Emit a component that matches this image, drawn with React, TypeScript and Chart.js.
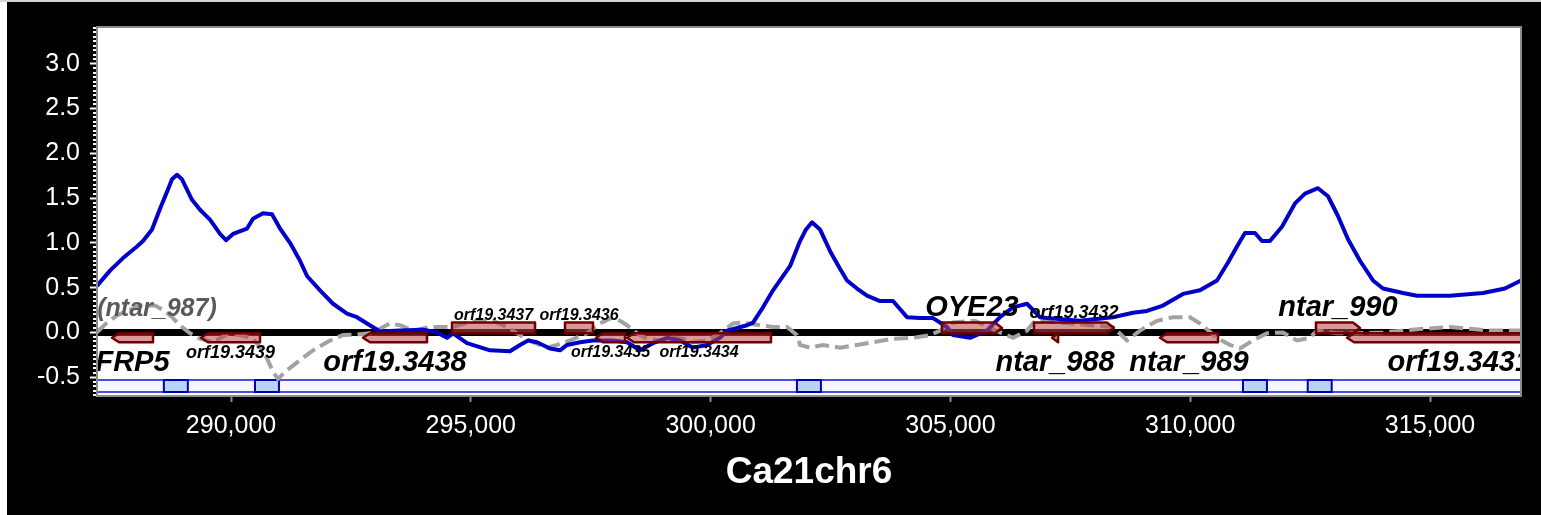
import React, { useEffect, useRef } from 'react';
import { Chart, registerables } from 'chart.js';

Chart.register(...registerables);

const FONT = '"Liberation Sans", Arial, Helvetica, sans-serif';

// ---- axes ----
const X_MIN = 287206;
const X_MAX = 316897;
const Y_MIN = -0.71;
const Y_MAX = 3.41;
const xTickValues = [290000, 295000, 300000, 305000, 310000, 315000];
const yTickValues = [-0.5, 0, 0.5, 1, 1.5, 2, 2.5, 3];
const xAxisTitle = 'Ca21chr6';

// ---- blue signal ----
const bluePositions = [
  287206, 287477, 287748, 288040, 288165, 288353, 288520, 288666, 288770, 288874,
  288978, 289187, 289354, 289562, 289771, 289896, 290042, 290334, 290459, 290667,
  290855, 291022, 291230, 291439, 291585, 291856, 292127, 292419, 292627, 292836,
  293107, 293524, 294004, 294295, 294504, 294629, 294921, 295401, 295817, 296026,
  296193, 296380, 296651, 296860, 297006, 297277, 297548, 297965, 298257, 298528,
  298799, 299091, 299362, 299633, 299925, 300196, 300342, 300759, 300884, 301092,
  301301, 301447, 301655, 301864, 301989, 302114, 302281, 302489, 302698, 302844,
  303052, 303261, 303532, 303803, 304095, 304366, 304637, 304929, 305054, 305408,
  305762, 306033, 306305, 306597, 306867, 307014, 307702, 308390, 308807, 309099,
  309432, 309849, 310203, 310558, 310788, 310975, 311142, 311350, 311496, 311663,
  311913, 312184, 312393, 312664, 312873, 313081, 313290, 313540, 313811, 314019,
  314436, 314728, 315416, 316104, 316563, 316897,
];
const blueValues = [
  0.52, 0.69, 0.83, 0.96, 1.02, 1.15, 1.38, 1.57, 1.71, 1.76,
  1.71, 1.48, 1.37, 1.26, 1.10, 1.03, 1.10, 1.16, 1.27, 1.33,
  1.32, 1.16, 1.00, 0.80, 0.63, 0.47, 0.32, 0.21, 0.17, 0.10,
  0.01, 0.02, 0.03, 0.00, -0.06, -0.01, -0.12, -0.20, -0.21, -0.14,
  -0.09, -0.11, -0.18, -0.20, -0.14, -0.11, -0.09, -0.09, -0.11, -0.20,
  -0.12, -0.06, -0.09, -0.17, -0.14, -0.06, 0.02, 0.08, 0.11, 0.28,
  0.47, 0.58, 0.74, 1.02, 1.15, 1.23, 1.15, 0.91, 0.71, 0.58,
  0.49, 0.41, 0.35, 0.35, 0.17, 0.16, 0.16, 0.06, -0.03, -0.06,
  0.02, 0.17, 0.28, 0.32, 0.17, 0.16, 0.13, 0.17, 0.22, 0.24,
  0.30, 0.43, 0.47, 0.58, 0.78, 0.96, 1.11, 1.11, 1.02, 1.02,
  1.18, 1.44, 1.55, 1.61, 1.52, 1.30, 1.04, 0.80, 0.58, 0.49,
  0.44, 0.41, 0.41, 0.44, 0.49, 0.58,
];

// ---- gray dashed signal ----
const grayPositions = [
  287206, 287415, 287623, 287832, 288103, 288415, 288624, 288791, 288937, 289145,
  289354, 289625, 289917, 290188, 290459, 290605, 290751, 290876, 290980, 291126,
  291439, 291710, 292064, 292335, 292689, 292898, 293107, 293315, 293524, 293795,
  294149, 294629, 294921, 295192, 295463, 295755, 296026, 296297, 296589, 296797,
  297068, 297423, 297694, 297965, 298111, 298257, 298465, 298674, 298945, 299216,
  299425, 299633, 299925, 300196, 300467, 300675, 301029, 301301, 301593, 301801,
  301864, 302072, 302343, 302698, 303052, 303386, 303803, 304220, 304574, 304783,
  305054, 305512, 306033, 306305, 306597, 306764, 307285, 307911, 308390, 308682,
  308953, 309307, 309640, 309995, 310203, 310558, 310829, 311037, 311309, 311601,
  311934, 312226, 312497, 312643, 313060, 313477, 314019, 314436, 314853, 315416,
  315833, 316250, 316897,
];
const grayValues = [
  0.00, 0.11, 0.19, 0.24, 0.30, 0.30, 0.24, 0.16, 0.08, -0.01,
  -0.07, -0.11, -0.02, -0.03, -0.07, -0.17, -0.29, -0.44, -0.52, -0.44,
  -0.31, -0.20, -0.09, -0.03, -0.02, -0.01, 0.04, 0.10, 0.08, 0.02,
  0.06, 0.06, 0.11, 0.13, 0.13, 0.06, -0.03, -0.11, -0.17, -0.14,
  -0.09, -0.01, 0.10, 0.17, 0.13, 0.08, -0.01, -0.07, -0.09, -0.06,
  -0.07, -0.11, -0.09, -0.01, 0.10, 0.11, 0.08, 0.06, 0.06, -0.03,
  -0.14, -0.17, -0.14, -0.17, -0.14, -0.11, -0.07, -0.06, -0.03, 0.02,
  0.11, 0.13, 0.00, -0.06, 0.02, 0.13, 0.11, 0.08, 0.06, -0.09,
  0.02, 0.13, 0.17, 0.17, 0.10, -0.06, -0.14, -0.18, -0.09, -0.01,
  0.00, -0.09, -0.06, 0.02, -0.01, -0.01, 0.00, 0.02, 0.04, 0.06,
  0.04, 0.02, 0.02,
];

// ---- gene features ----
const geneNames = ['FRP5', 'orf19.3439', 'orf19.3438', 'orf19.3437', 'orf19.3436', 'orf19.3435', 'orf19.3434', 'OYE23', 'orf19.3432', 'ntar_988', 'ntar_989', 'ntar_990', 'orf19.3431'];
const geneStarts = [287519, 289374, 292752, 294608, 296964, 297610, 298257, 304824, 306742, 307120, 309370, 312622, 313270];
const geneEnds = [288374, 290605, 294087, 296339, 297548, 298215, 301259, 306075, 308410, 307245, 310580, 313540, 317950];
const geneStrands = ['-', '-', '-', '+', '+', '-', '-', '+', '+', '-', '-', '+', '-'];
const genesWithoutArrow = ['orf19.3437', 'orf19.3436'];
const ghostLabelText = '(ntar_987)';
const ghostLabelAt = 288457;

// ---- blue region track ----
const regionStarts = [288600, 290500, 301800, 311100, 312450];
const regionEnds = [289100, 291000, 302300, 311600, 312950];

// label styling (px sizes & offsets)
const bigLabelNames = ['FRP5', 'orf19.3438', 'OYE23', 'ntar_988', 'ntar_989', 'ntar_990', 'orf19.3431'];
const midLabelNames = ['orf19.3439', 'orf19.3432'];

function labelStyle(name: string) {
  if (bigLabelNames.includes(name)) return { size: 29, up: -7, down: 29 };
  if (midLabelNames.includes(name)) return { size: 18, up: -5, down: 16 };
  return { size: 16, up: -3, down: 15 };
}

function clipArea(ctx: any, a: any) {
  ctx.beginPath();
  ctx.rect(a.left, a.top, a.right - a.left, a.bottom - a.top);
  ctx.clip();
}

const tracksPlugin = {
  id: 'tracks',
  beforeDraw(chart: any) {
    const { ctx, chartArea: a, width, height } = chart;
    ctx.save();
    ctx.fillStyle = '#000';
    ctx.fillRect(0, 0, width, height);
    ctx.fillStyle = '#fff';
    ctx.fillRect(a.left, a.top, a.right - a.left, a.bottom - a.top);
    ctx.restore();
  },
  beforeDatasetsDraw(chart: any) {
    const { ctx, chartArea: a } = chart;
    const x = chart.scales.x;
    const y = chart.scales.y;
    const top = Math.round(y.getPixelForValue(-0.53));
    const bot = Math.round(y.getPixelForValue(-0.665));
    ctx.save();
    clipArea(ctx, a);
    ctx.fillStyle = '#f6f6ff';
    ctx.fillRect(a.left, top, a.right - a.left, bot - top);
    ctx.strokeStyle = '#1414c8';
    ctx.lineWidth = 1.5;
    ctx.beginPath();
    ctx.moveTo(a.left, top);
    ctx.lineTo(a.right, top);
    ctx.moveTo(a.left, bot);
    ctx.lineTo(a.right, bot);
    ctx.stroke();
    for (let i = 0; i < regionStarts.length; i++) {
      const x1 = x.getPixelForValue(regionStarts[i]);
      const x2 = x.getPixelForValue(regionEnds[i]);
      ctx.fillStyle = '#b7d3f5';
      ctx.fillRect(x1, top, x2 - x1, bot - top);
      ctx.strokeStyle = '#0000b4';
      ctx.lineWidth = 2;
      ctx.strokeRect(x1, top, x2 - x1, bot - top);
    }
    ctx.restore();
  },
  afterDatasetsDraw(chart: any) {
    const { ctx, chartArea: a } = chart;
    const x = chart.scales.x;
    const y = chart.scales.y;
    const upTop = y.getPixelForValue(0.11);
    const mid = y.getPixelForValue(-0.01);
    const lowBot = y.getPixelForValue(-0.11);
    ctx.save();
    clipArea(ctx, a);
    for (let i = 0; i < geneNames.length; i++) {
      const x1 = x.getPixelForValue(geneStarts[i]);
      const x2 = x.getPixelForValue(geneEnds[i]);
      const plus = geneStrands[i] === '+';
      const t = plus ? upTop : mid;
      const b = plus ? mid : lowBot;
      const m = (t + b) / 2;
      const tip = Math.min(7, x2 - x1);
      ctx.beginPath();
      if (genesWithoutArrow.includes(geneNames[i])) {
        ctx.rect(x1, t, x2 - x1, b - t);
      } else if (plus) {
        ctx.moveTo(x1, t);
        ctx.lineTo(x2 - tip, t);
        ctx.lineTo(x2, m);
        ctx.lineTo(x2 - tip, b);
        ctx.lineTo(x1, b);
        ctx.closePath();
      } else {
        ctx.moveTo(x2, t);
        ctx.lineTo(x1 + tip, t);
        ctx.lineTo(x1, m);
        ctx.lineTo(x1 + tip, b);
        ctx.lineTo(x2, b);
        ctx.closePath();
      }
      ctx.fillStyle = 'rgba(185, 70, 70, 0.55)';
      ctx.fill();
      ctx.strokeStyle = '#6e0000';
      ctx.lineWidth = 2.5;
      ctx.lineJoin = 'round';
      ctx.stroke();
    }
    // labels
    ctx.textAlign = 'center';
    ctx.textBaseline = 'alphabetic';
    for (let i = 0; i < geneNames.length; i++) {
      const st = labelStyle(geneNames[i]);
      const cx = (x.getPixelForValue(geneStarts[i]) + x.getPixelForValue(geneEnds[i])) / 2;
      const plus = geneStrands[i] === '+';
      const by = plus ? upTop + st.up : lowBot + st.down;
      ctx.font = `italic bold ${st.size}px ${FONT}`;
      ctx.fillStyle = '#000';
      ctx.fillText(geneNames[i], cx, by);
    }
    ctx.font = `italic bold 25px ${FONT}`;
    ctx.fillStyle = '#5a5a5a';
    ctx.fillText(ghostLabelText, x.getPixelForValue(ghostLabelAt), upTop - 7);
    ctx.restore();
  },
  afterDraw(chart: any) {
    const { ctx, chartArea: a } = chart;
    const y = chart.scales.y;
    ctx.save();
    ctx.strokeStyle = '#8c8c8c';
    ctx.lineWidth = 2;
    ctx.strokeRect(a.left, a.top, a.right - a.left, a.bottom - a.top);
    ctx.fillStyle = '#fff';
    for (let i = -14; i <= 68; i++) {
      if (i % 10 === 0) continue;
      const py = y.getPixelForValue(i * 0.05);
      if (py < a.top || py > a.bottom) continue;
      ctx.fillRect(a.left - 4, Math.round(py) - 1, 3, 2);
    }
    ctx.restore();
  },
};

export default function App() {
  const ref = useRef<HTMLCanvasElement>(null);
  useEffect(() => {
    if (!ref.current) return;
    const chart = new Chart(ref.current, {
      type: 'line',
      data: {
        datasets: [
          {
            label: 'signal',
            data: bluePositions.map((p, i) => ({ x: p, y: blueValues[i] })),
            borderColor: '#0000c8',
            borderWidth: 4,
            pointRadius: 0,
            tension: 0,
            order: 1,
            borderJoinStyle: 'round',
          },
          {
            label: 'control',
            data: grayPositions.map((p, i) => ({ x: p, y: grayValues[i] })),
            borderColor: '#a2a2a2',
            borderWidth: 4,
            borderDash: [14, 6],
            pointRadius: 0,
            tension: 0,
            order: 2,
          },
          {
            label: 'zero',
            data: [{ x: X_MIN, y: 0 }, { x: X_MAX, y: 0 }],
            borderColor: '#000',
            borderWidth: 7,
            pointRadius: 0,
            order: 3,
            clip: 0,
          },
        ],
      } as any,
      options: {
        animation: false,
        responsive: true,
        maintainAspectRatio: false,
        events: [],
        layout: { padding: { left: 0, right: 20, top: 22, bottom: 0 } },
        plugins: { legend: { display: false }, tooltip: { enabled: false } },
        scales: {
          x: {
            type: 'linear',
            min: X_MIN,
            max: X_MAX,
            afterBuildTicks: (s: any) => { s.ticks = xTickValues.map((v) => ({ value: v })); },
            afterFit: (s: any) => { s.height = 119; },
            ticks: {
              color: '#ffffff',
              font: { family: FONT, size: 25 },
              padding: 9,
              maxRotation: 0,
              autoSkip: false,
              callback: (v: any) => Number(v).toLocaleString('en-US'),
            },
            grid: { drawOnChartArea: false, drawTicks: true, tickLength: 6, tickColor: '#8c8c8c', tickWidth: 2 },
            border: { display: false },
            title: {
              display: true,
              text: xAxisTitle,
              color: '#ffffff',
              font: { family: FONT, size: 37, weight: 'bold' },
              padding: { top: 0, bottom: 20 },
            },
          },
          y: {
            type: 'linear',
            min: Y_MIN,
            max: Y_MAX,
            afterBuildTicks: (s: any) => { s.ticks = yTickValues.map((v) => ({ value: v })); },
            afterFit: (s: any) => { s.width = 90; },
            ticks: {
              color: '#ffffff',
              font: { family: FONT, size: 25 },
              padding: 10,
              callback: (v: any) => Number(v).toFixed(1),
            },
            grid: { drawOnChartArea: false, drawTicks: true, tickLength: 7, tickColor: '#ffffff', tickWidth: 2 },
            border: { display: false },
          },
        },
      } as any,
      plugins: [tracksPlugin],
    });
    return () => chart.destroy();
  }, []);

  return (
    <div style={{ position: 'fixed', left: 0, top: 0, width: 1541, height: 515, background: '#fff', overflow: 'hidden' }}>
      <div style={{ position: 'absolute', left: 0, top: 0, width: 1541, height: 2, background: '#d4d4d4' }} />
      <div style={{ position: 'absolute', left: 7, top: 2, width: 1534, height: 513 }}>
        <canvas ref={ref} />
      </div>
    </div>
  );
}
